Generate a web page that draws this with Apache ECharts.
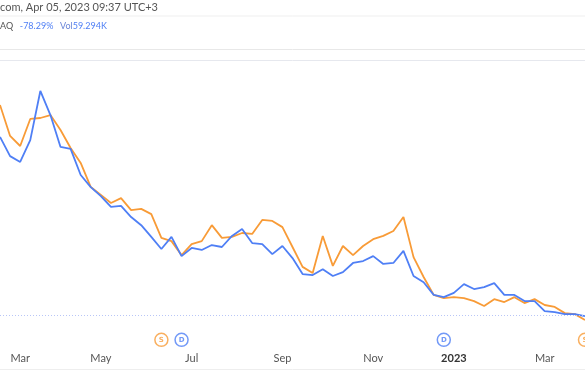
<!DOCTYPE html>
<html>
<head>
<meta charset="utf-8">
<script src="https://cdn.jsdelivr.net/npm/echarts@6/dist/echarts.min.js"></script>
<style>
html,body{margin:0;padding:0;background:#fff;}
#chart{width:585px;height:390px;}
</style>
</head>
<body>
<div id="chart"></div>
<script>
// Weekly bars (Monday dates)
var weeks = [
  "2022-02-21","2022-02-28","2022-03-07","2022-03-14","2022-03-21","2022-03-28",
  "2022-04-04","2022-04-11","2022-04-18","2022-04-25","2022-05-02","2022-05-09",
  "2022-05-16","2022-05-23","2022-05-30","2022-06-06","2022-06-13","2022-06-20",
  "2022-06-27","2022-07-04","2022-07-11","2022-07-18","2022-07-25","2022-08-01",
  "2022-08-08","2022-08-15","2022-08-22","2022-08-29","2022-09-05","2022-09-12",
  "2022-09-19","2022-09-26","2022-10-03","2022-10-10","2022-10-17","2022-10-24",
  "2022-10-31","2022-11-07","2022-11-14","2022-11-21","2022-11-28","2022-12-05",
  "2022-12-12","2022-12-19","2022-12-26","2023-01-02","2023-01-09","2023-01-16",
  "2023-01-23","2023-01-30","2023-02-06","2023-02-13","2023-02-20","2023-02-27",
  "2023-03-06","2023-03-13","2023-03-20","2023-03-27","2023-04-03"
];
// Percent change, main symbol (blue)
var mainPct = [
  -23.6,-29.5,-31.3,-24.6,-9.5,-16.9,-26.7,-27.3,-35.3,-39.0,
  -41.8,-45.1,-44.8,-48.2,-50.7,-54.3,-58.0,-54.3,-60.2,-57.7,
  -58.3,-56.8,-57.4,-54.0,-51.9,-56.2,-56.5,-59.6,-57.1,-60.8,
  -65.7,-66.0,-64.2,-66.3,-65.1,-62.3,-61.7,-60.2,-62.6,-62.3,
  -58.6,-66.3,-68.2,-72.1,-72.8,-71.5,-68.8,-70.3,-69.7,-68.5,
  -72.1,-72.1,-74.0,-74.0,-77.1,-77.4,-78.0,-78.0,-78.6
];
// Percent change, comparison symbol (orange)
var comparePct = [
  -13.8,-23.3,-26.4,-18.1,-17.8,-16.9,-21.5,-27.0,-31.6,-39.0,
  -41.4,-43.9,-42.4,-46.1,-45.7,-47.3,-54.6,-55.6,-59.9,-56.5,
  -55.6,-50.7,-54.6,-54.3,-53.1,-53.4,-49.1,-49.4,-51.3,-57.4,
  -63.5,-65.4,-54.0,-63.2,-57.1,-59.9,-57.1,-55.0,-54.0,-52.5,
  -48.2,-60.5,-66.6,-72.1,-73.1,-72.8,-73.1,-74.0,-75.5,-73.4,
  -74.3,-72.8,-74.6,-73.4,-75.2,-75.8,-77.7,-78.0,-79.8
];
// Time-axis tick labels
var tickWeeks  = ["2022-03-07","2022-05-02","2022-07-04","2022-09-05","2022-11-07","2023-01-02","2023-03-06"];
var tickLabels = ["Mar","May","Jul","Sep","Nov","2023","Mar"];
// Events (S = split, D = dividend)
var eventWeeks = ["2022-06-13","2022-06-27","2022-12-26","2023-04-03"];
var eventTypes = ["S","D","D","S"];
// Header values
var headerTime = "com, Apr 05, 2023 09:37 UTC+3";
var headerSym = "AQ";
var lastPct = -78.29;
var volumeText = "59.294K";

var ORANGE = "#f89b37";
var BLUE = "#4f7ff5";
var Y_MIN = -88.4, Y_MAX = 0;

var chart = echarts.init(document.getElementById('chart'), null, {renderer: 'canvas'});

var eventData = eventWeeks.map(function (w, i) {
  return {
    value: [w, Y_MIN + 2.5],
    label: { formatter: eventTypes[i], color: eventTypes[i] === 'S' ? ORANGE : BLUE },
    itemStyle: { borderColor: eventTypes[i] === 'S' ? ORANGE : BLUE }
  };
});

var option = {
  animation: false,
  backgroundColor: '#ffffff',
  grid: { left: -3.25, right: -6.25, top: 60, bottom: 42, containLabel: false },
  xAxis: {
    type: 'category',
    data: weeks,
    boundaryGap: false,
    axisLine: { show: true, lineStyle: { color: '#e6e8ee', width: 1 } },
    axisTick: { show: false },
    splitLine: { show: false },
    axisLabel: {
      margin: 5,
      fontFamily: 'Lato, "DejaVu Sans", sans-serif',
      fontSize: 11,
      color: '#555',
      interval: function (idx, val) { return tickWeeks.indexOf(val) >= 0; },
      formatter: function (val) {
        var i = tickWeeks.indexOf(val);
        if (i < 0) return '';
        return tickLabels[i] === '2023' ? '{b|' + tickLabels[i] + '}' : tickLabels[i];
      },
      rich: { b: { fontWeight: 'bold', color: '#333', fontSize: 11, fontFamily: 'Lato, "DejaVu Sans", sans-serif' } }
    }
  },
  yAxis: {
    type: 'value',
    min: Y_MIN, max: Y_MAX,
    show: false,
    splitLine: { show: false }
  },
  series: [
    {
      name: 'compare', type: 'line', data: comparePct, symbol: 'none',
      lineStyle: { color: ORANGE, width: 1.8 }, z: 3
    },
    {
      name: 'main', type: 'line', data: mainPct, symbol: 'none',
      lineStyle: { color: BLUE, width: 1.8 }, z: 4,
      markLine: {
        silent: true, symbol: 'none',
        label: { show: false },
        lineStyle: { color: '#b9c6f7', type: [1, 2], width: 1 },
        data: [{ yAxis: lastPct }]
      }
    },
    {
      name: 'events', type: 'scatter', data: eventData,
      symbol: 'circle', symbolSize: 13,
      itemStyle: { color: '#fff', borderWidth: 1.5 },
      label: { show: true, position: 'inside', fontSize: 7, fontWeight: 'bold', fontFamily: '"DejaVu Sans", sans-serif' },
      z: 5
    }
  ],
  graphic: [
    { type: 'line', shape: { x1: 0, y1: 16, x2: 585, y2: 16 }, style: { stroke: '#efefef', lineWidth: 1 } },
    { type: 'line', shape: { x1: 0, y1: 49.5, x2: 585, y2: 49.5 }, style: { stroke: '#e8e8e8', lineWidth: 1 } },
    { type: 'line', shape: { x1: 0, y1: 369.5, x2: 585, y2: 369.5 }, style: { stroke: '#eeeeee', lineWidth: 1 } },
    {
      type: 'text', left: 0, top: 2,
      style: { text: headerTime, fill: '#555', font: '11px Lato, "DejaVu Sans", sans-serif' }
    },
    {
      type: 'text', left: 0, top: 20,
      style: {
        text: '{a|' + headerSym + '}  {b|' + lastPct.toFixed(2) + '%}  {c|Vol}{b|' + volumeText + '}',
        rich: {
          a: { fill: '#555', font: '9px Lato, "DejaVu Sans", sans-serif' },
          b: { fill: BLUE, font: '9px Lato, "DejaVu Sans", sans-serif' },
          c: { fill: '#6b86d8', font: '9px Lato, "DejaVu Sans", sans-serif' }
        }
      }
    }
  ]
};
chart.setOption(option);
</script>
</body>
</html>
